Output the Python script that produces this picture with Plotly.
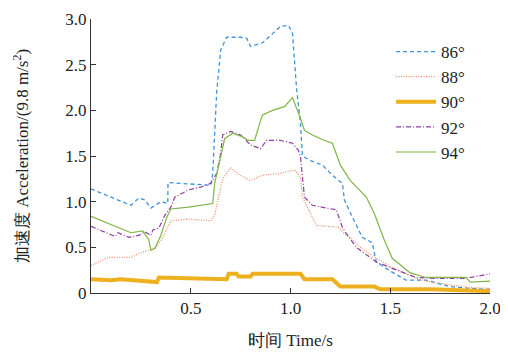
import plotly.graph_objects as go

# ---- data ----
t86 = [0, 0.1, 0.2, 0.24, 0.27, 0.3, 0.35, 0.385, 0.386, 0.45, 0.55, 0.6, 0.61, 0.63, 0.65, 0.68, 0.75, 0.78, 0.8, 0.86, 0.91, 0.95, 0.99, 1.01, 1.03, 1.05, 1.06, 1.1, 1.16, 1.21, 1.26, 1.27, 1.31, 1.36, 1.41, 1.43, 1.5, 1.55, 1.58, 1.68, 1.75, 1.8, 1.9, 2.0]
a86 = [1.14, 1.05, 0.96, 1.04, 1.02, 0.93, 1.0, 0.98, 1.21, 1.2, 1.19, 1.18, 1.3, 2.2, 2.66, 2.8, 2.8, 2.79, 2.70, 2.74, 2.84, 2.92, 2.93, 2.84, 2.25, 1.85, 1.5, 1.45, 1.40, 1.29, 1.2, 1.02, 0.83, 0.61, 0.55, 0.34, 0.24, 0.18, 0.14, 0.14, 0.1, 0.07, 0.05, 0.04]

t88 = [0, 0.085, 0.2, 0.26, 0.32, 0.36, 0.4, 0.49, 0.6, 0.62, 0.66, 0.7, 0.74, 0.8, 0.86, 0.95, 1.02, 1.05, 1.06, 1.1, 1.13, 1.24, 1.27, 1.3, 1.35, 1.43, 1.51, 1.63, 1.7, 1.8, 1.9, 2.0]
a88 = [0.30, 0.39, 0.39, 0.45, 0.48, 0.61, 0.79, 0.81, 0.79, 0.85, 1.25, 1.37, 1.3, 1.23, 1.29, 1.31, 1.35, 1.27, 1.05, 0.87, 0.74, 0.72, 0.65, 0.61, 0.5, 0.38, 0.28, 0.16, 0.12, 0.09, 0.06, 0.05]

t90 = [0, 0.1, 0.15, 0.3, 0.33, 0.34, 0.5, 0.68, 0.69, 0.73, 0.74, 0.8, 0.81, 1.05, 1.07, 1.21, 1.24, 1.25, 1.42, 1.45, 1.7, 2.0]
a90 = [0.15, 0.14, 0.15, 0.13, 0.12, 0.17, 0.16, 0.15, 0.21, 0.21, 0.18, 0.18, 0.21, 0.21, 0.15, 0.15, 0.09, 0.07, 0.07, 0.04, 0.04, 0.02]

t92 = [0, 0.12, 0.135, 0.19, 0.24, 0.27, 0.3, 0.31, 0.34, 0.37, 0.4, 0.42, 0.49, 0.55, 0.6, 0.63, 0.65, 0.66, 0.7, 0.75, 0.8, 0.85, 0.88, 0.95, 1.01, 1.04, 1.05, 1.06, 1.07, 1.11, 1.23, 1.26, 1.28, 1.33, 1.43, 1.51, 1.63, 1.73, 1.88, 2.0]
a92 = [0.73, 0.62, 0.66, 0.61, 0.63, 0.67, 0.63, 0.69, 0.71, 0.85, 0.94, 1.05, 1.13, 1.16, 1.2, 1.31, 1.53, 1.73, 1.77, 1.73, 1.62, 1.58, 1.67, 1.67, 1.64, 1.56, 1.49, 1.24, 1.05, 0.96, 0.91, 0.72, 0.65, 0.5, 0.34, 0.27, 0.17, 0.16, 0.16, 0.21]

t94 = [0, 0.2, 0.26, 0.29, 0.3, 0.32, 0.35, 0.38, 0.4, 0.49, 0.61, 0.62, 0.65, 0.67, 0.71, 0.76, 0.79, 0.82, 0.85, 0.86, 0.91, 0.97, 1.01, 1.04, 1.05, 1.07, 1.11, 1.17, 1.21, 1.25, 1.3, 1.38, 1.42, 1.47, 1.51, 1.6, 1.68, 1.88, 1.9, 2.0]
a94 = [0.84, 0.66, 0.68, 0.58, 0.47, 0.49, 0.63, 0.83, 0.92, 0.94, 0.98, 1.2, 1.49, 1.69, 1.75, 1.71, 1.67, 1.67, 1.89, 1.95, 2.0, 2.04, 2.14, 1.98, 1.91, 1.78, 1.73, 1.67, 1.64, 1.4, 1.23, 1.05, 0.87, 0.58, 0.38, 0.22, 0.17, 0.17, 0.12, 0.13]

names = ["86°", "88°", "90°", "92°", "94°"]
colors = ["#3f93d8", "#ef8a62", "#EDB120", "#8e3fa0", "#7fb545"]
dashes = ["4px,3px", "1px,1.5px", "solid", "5px,2px,1px,2px", "solid"]
widths = [1.3, 1.2, 4, 1.2, 1.2]

y_ticks = [0, 0.5, 1.0, 1.5, 2.0, 2.5, 3.0]
y_ticktext = ["0", "0.5", "1.0", "1.5", "2.0", "2.5", "3.0"]
x_ticks = [0.5, 1.0, 1.5, 2.0]
x_ticktext = ["0.5", "1.0", "1.5", "2.0"]

series = [(t86, a86), (t88, a88), (t90, a90), (t92, a92), (t94, a94)]

fig = go.Figure()
for (t, a), n, c, d, w in zip(series, names, colors, dashes, widths):
    fig.add_trace(go.Scatter(x=t, y=a, mode="lines", name=n,
                             line=dict(color=c, dash=d, width=w)))

FONT = "Liberation Serif, Times New Roman, serif"
fig.update_layout(
    width=500, height=348,
    margin=dict(l=83, r=18, t=11, b=63, autoexpand=False),
    paper_bgcolor="white", plot_bgcolor="white",
    font=dict(family=FONT, size=17, color="#222"),
    legend=dict(x=0.752, y=0.945, xanchor="left", yanchor="top",
                bgcolor="rgba(0,0,0,0)",
                font=dict(family=FONT, size=17, color="#222"),
                itemwidth=40, tracegroupgap=0),
    showlegend=True,
)
fig.update_xaxes(range=[0, 2.0], tickvals=x_ticks, ticktext=x_ticktext,
                 tickfont=dict(family=FONT, size=17, color="#222"),
                 showline=True, linecolor="#333", linewidth=1,
                 ticks="inside", ticklen=5, tickcolor="#333",
                 showgrid=False, zeroline=False, automargin=False,
                 title=dict(text="时间 Time/s", standoff=16,
                            font=dict(family=FONT, size=17, color="#222")))
fig.update_yaxes(range=[0, 3.0], tickvals=y_ticks, ticktext=y_ticktext,
                 tickfont=dict(family=FONT, size=17, color="#222"),
                 showline=True, linecolor="#333", linewidth=1,
                 ticks="inside", ticklen=5, tickcolor="#333",
                 showgrid=False, zeroline=False, automargin=False,
                 title=dict(text="加速度 Acceleration/(9.8 m/s<sup>2</sup>)", standoff=32,
                            font=dict(family=FONT, size=17, color="#222")))

fig.write_html("out.html")
